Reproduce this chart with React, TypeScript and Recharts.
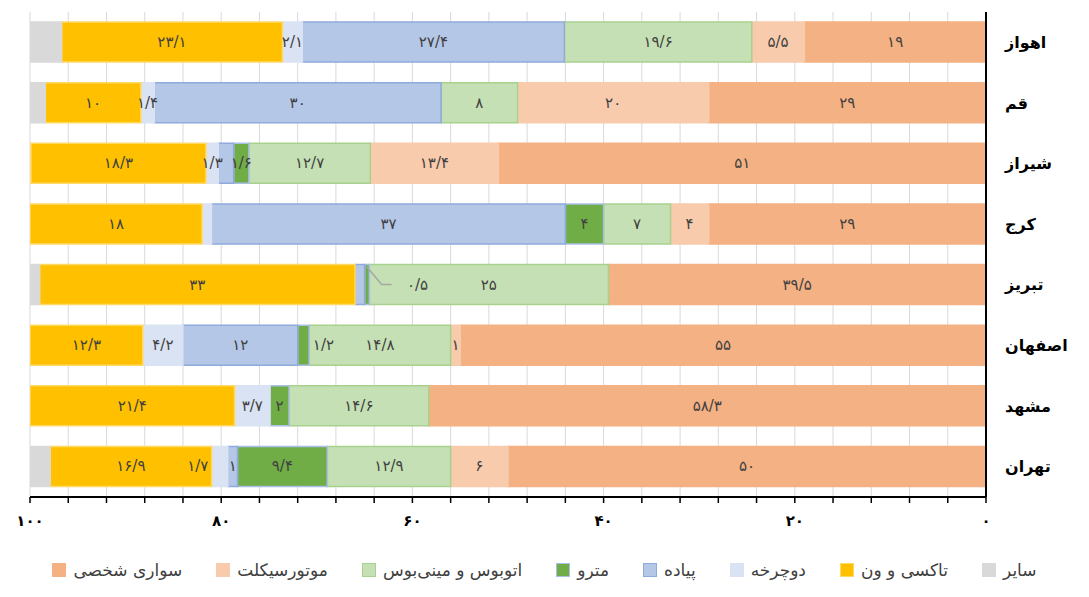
import React from "react";
import {
  BarChart,
  Bar,
  XAxis,
  YAxis,
  CartesianGrid,
  LabelList,
} from "recharts";

const cities = ["اهواز", "قم", "شیراز", "کرج", "تبریز", "اصفهان", "مشهد", "تهران"];

const car = [19, 29, 51, 29, 39.5, 55, 58.3, 50];
const moto = [5.5, 20, 13.4, 4, 0, 1, 0, 6];
const bus = [19.6, 8, 12.7, 7, 25, 14.8, 14.6, 12.9];
const metro = [0, 0, 1.6, 4, 0.5, 1.2, 2, 9.4];
const walk = [27.4, 30, 1.6, 37, 1, 12, 0, 1];
const bicycle = [2.1, 1.4, 1.3, 1, 0, 4.2, 3.7, 1.7];
const taxi = [23.1, 10, 18.3, 18, 33, 12.3, 21.4, 16.9];
const other = [3.3, 1.6, 0, 0, 1, 0, 0, 2.1];

const xTicks = [0, 4, 8, 12, 16, 20, 24, 28, 32, 36, 40, 44, 48, 52, 56, 60, 64, 68, 72, 76, 80, 84, 88, 92, 96, 100];

const data = cities.map((city, i) => ({
  city,
  car: car[i],
  moto: moto[i],
  bus: bus[i],
  metro: metro[i],
  walk: walk[i],
  bicycle: bicycle[i],
  taxi: taxi[i],
  other: other[i],
}));

const series = [
  { key: "car", name: "سواری شخصی", fill: "#F4B183", stroke: "#F4B183" },
  { key: "moto", name: "موتورسیکلت", fill: "#F8CBAD", stroke: "#F8CBAD" },
  { key: "bus", name: "اتوبوس و مینی‌بوس", fill: "#C5E0B4", stroke: "#A9D18E" },
  { key: "metro", name: "مترو", fill: "#70AD47", stroke: "#A9BFE6" },
  { key: "walk", name: "پیاده", fill: "#B4C7E7", stroke: "#8FAADC" },
  { key: "bicycle", name: "دوچرخه", fill: "#DAE3F3", stroke: "#DAE3F3" },
  { key: "taxi", name: "تاکسی و ون", fill: "#FFC000", stroke: "#FFD966" },
  { key: "other", name: "سایر", fill: "#D9D9D9", stroke: "#D9D9D9" },
];

// labels Excel left off
const hidden = new Set(["شیراز|walk", "کرج|bicycle", "تبریز|walk"]);
// labels Excel moved sideways
const shift: Record<string, number> = { "اصفهان|metro": 20, "تهران|bicycle": -22 };

const FONT = "DejaVu Sans";

const fa = (v: number) =>
  String(v)
    .replace(/\d/g, (d) => "۰۱۲۳۴۵۶۷۸۹"[+d])
    .replace(".", "/");

function renderLabel(props: any, key: string) {
  const { x, y, width, height, value } = props;
  const city = String(value);
  const row = data.find((d) => d.city === city) as any;
  const v = row ? row[key] : 0;
  if (!v || key === "other" || hidden.has(city + "|" + key)) return null;
  const cy = y + height / 2;
  if (city === "تبریز" && key === "metro") {
    const x0 = x + width + 2;
    return (
      <g>
        <polyline
          points={`${x0},${y + 2} ${x0 + 15},${cy} ${x0 + 25},${cy}`}
          fill="none"
          stroke="#A6A6A6"
          strokeWidth={1.5}
        />
        <text x={x0 + 51} y={cy} textAnchor="middle" dominantBaseline="central" fontSize={15} fill="#404040" fontFamily={FONT}>
          {fa(v)}
        </text>
      </g>
    );
  }
  const dx = shift[city + "|" + key] || 0;
  return (
    <text
      x={x + width / 2 + dx}
      y={cy}
      textAnchor="middle"
      dominantBaseline="central"
      fontSize={15}
      fill="#404040"
      fontFamily={FONT}
    >
      {fa(v)}
    </text>
  );
}

function Legend2() {
  return (
    <div
      style={{
        position: "absolute",
        left: 0,
        top: 560,
        width: 1089,
        display: "flex",
        justifyContent: "center",
        gap: 34,
        fontFamily: FONT,
        fontSize: 17,
        color: "#404040",
      }}
    >
      {series.map((s) => (
        <div key={s.key} style={{ display: "flex", alignItems: "center", gap: 7 }}>
          <span
            style={{
              width: 12,
              height: 12,
              background: s.fill,
              border: `1.5px solid ${s.stroke}`,
              display: "inline-block",
            }}
          />
          <span>{s.name}</span>
        </div>
      ))}
    </div>
  );
}

export default function App() {
  return (
    <div style={{ position: "absolute", left: 0, top: 0, width: 1089, height: 597, background: "#fff" }}>
      <BarChart
        width={1089}
        height={597}
        data={data}
        layout="vertical"
        barSize={40}
        margin={{ top: 12, right: 0, bottom: 40, left: 30 }}
      >
        <CartesianGrid horizontal={false} stroke="#D9D9D9" />
        <XAxis
          type="number"
          reversed
          domain={[0, 100]}
          allowDataOverflow
          ticks={xTicks}
          interval={0}
          tickFormatter={(v: number) => (v % 20 === 0 ? fa(v) : "")}
          axisLine={{ stroke: "#000", strokeWidth: 2 }}
          tickLine={{ stroke: "#000", strokeWidth: 1.5 }}
          tickSize={6}
          tickMargin={12}
          height={60}
          tick={{ fill: "#000", fontSize: 15, fontWeight: "bold", fontFamily: FONT }}
        />
        <YAxis
          type="category"
          dataKey="city"
          orientation="right"
          width={103}
          axisLine={{ stroke: "#000", strokeWidth: 2 }}
          tickLine={false}
          tickMargin={13}
          tick={{ fill: "#000", fontSize: 16, fontWeight: "bold", fontFamily: FONT, textAnchor: "start" }}
        />
        {series.map((s) => (
          <Bar
            key={s.key}
            dataKey={s.key}
            name={s.name}
            stackId="a"
            fill={s.fill}
            stroke={s.stroke}
            strokeWidth={1.5}
            isAnimationActive={false}
          >
            <LabelList dataKey="city" content={(p: any) => renderLabel(p, s.key)} />
          </Bar>
        ))}
      </BarChart>
      <Legend2 />
    </div>
  );
}
